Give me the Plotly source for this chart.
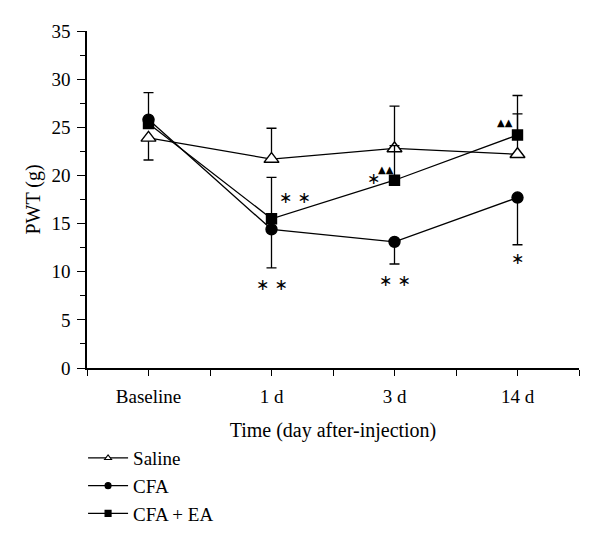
import plotly.graph_objects as go

# time points
days = ["Baseline", "1 d", "3 d", "14 d"]
xs = list(range(len(days)))

# PWT (g), mean and one-sided error bars
saline = [23.9, 21.7, 22.8, 22.2]
saline_up = [0, 3.2, 4.4, 4.2]
saline_dn = [2.3, 0, 0, 0]

cfa = [25.8, 14.4, 13.1, 17.7]
cfa_up = [2.8, 0, 0, 0]
cfa_dn = [0, 4.0, 2.3, 4.9]

cfa_ea = [25.4, 15.5, 19.5, 24.2]
cfa_ea_up = [0, 4.3, 3.6, 4.1]
cfa_ea_dn = [0, 0, 0, 0]

# significance marks (x position, PWT level, text)
stars = [
    (1, 8.8, "∗ ∗"),
    (1.19, 17.8, "∗ ∗"),
    (2, 9.2, "∗ ∗"),
    (1.83, 19.8, "∗"),
    (3, 11.5, "∗"),
]
tris = [(1.93, 20.6), (2.9, 25.5)]

FONT = "Liberation Serif"

fig = go.Figure()

series = [
    ("Saline", saline, saline_up, saline_dn, "triangle-up", "white", 13),
    ("CFA", cfa, cfa_up, cfa_dn, "circle", "black", 11),
    ("CFA + EA", cfa_ea, cfa_ea_up, cfa_ea_dn, "square", "black", 10),
]

for name, ys, up, dn, sym, fill, sz in series:
    fig.add_trace(go.Scatter(
        x=xs, y=ys, mode="lines+markers", showlegend=False,
        line=dict(color="black", width=1.3),
        marker=dict(symbol=sym, size=sz, color=fill,
                    line=dict(color="black", width=1.4)),
        error_y=dict(type="data", symmetric=False, array=up, arrayminus=dn,
                     color="black", thickness=1.3, width=5),
    ))

# legend entries with small symbols
for name, ys, up, dn, sym, fill, sz in series:
    fig.add_trace(go.Scatter(
        x=[None], y=[None], mode="lines+markers", name=name,
        line=dict(color="black", width=1.2),
        marker=dict(symbol=sym, size=6, color=fill,
                    line=dict(color="black", width=1.1)),
    ))

for mx, my, txt in stars:
    fig.add_annotation(x=mx, y=my, text=txt, showarrow=False, yshift=-1,
                       font=dict(family="DejaVu Sans", size=16, color="black"))

for mx, my in tris:
    fig.add_annotation(x=mx, y=my, text="▲▲", showarrow=False,
                       font=dict(family="DejaVu Sans", size=10, color="black"))

fig.update_layout(
    width=600, height=541,
    margin=dict(l=79, r=29, t=23, b=181),
    plot_bgcolor="white", paper_bgcolor="white",
    font=dict(family=FONT, size=19, color="black"),
    legend=dict(x=-0.008, y=-0.211, xanchor="left", yanchor="top",
                font=dict(family=FONT, size=19), tracegroupgap=0,
                itemwidth=40, bgcolor="rgba(0,0,0,0)"),
    xaxis=dict(
        range=[-0.5, 3.5], tickmode="array", tickvals=xs, ticktext=days,
        showline=True, linecolor="black", linewidth=1.5,
        ticks="outside", ticklen=6, tickwidth=1.3, tickcolor="black",
        ticklabelstandoff=4,
        minor=dict(tick0=0.5, dtick=1, ticks="outside", ticklen=6, tickwidth=1.3, tickcolor="black"),
        showgrid=False, zeroline=False, automargin=False,
        title=dict(text="Time (day after-injection)", standoff=17, font=dict(size=20)),
    ),
    yaxis=dict(
        range=[0, 35], tickvals=list(range(0, 36, 5)),
        showline=True, linecolor="black", linewidth=1.5,
        ticks="outside", ticklen=8, tickwidth=1.3, tickcolor="black",
        ticklabelstandoff=3,
        minor=dict(tick0=2.5, dtick=5, ticks="outside", ticklen=5, tickwidth=1.3, tickcolor="black"),
        showgrid=False, zeroline=False, automargin=False,
        title=dict(text="PWT (g)", standoff=5, font=dict(size=20)),
    ),
)

fig.write_html("out.html")
